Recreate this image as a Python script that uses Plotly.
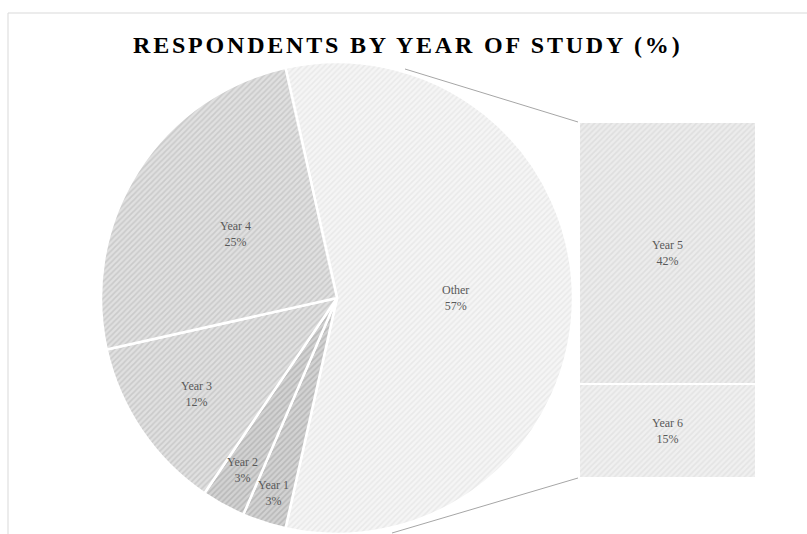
import math
import plotly.graph_objects as go

# ---- data ----
title_text = "RESPONDENTS BY YEAR OF STUDY (%)"
pie_labels = ["Other", "Year 1", "Year 2", "Year 3", "Year 4"]
pie_values = [57, 3, 3, 12, 25]
bar_labels = ["Year 6", "Year 5"]
bar_values = [15, 42]

# ---- style ----
W, H = 807, 534
def px(x):
    return x / W
def py(y):
    return 1 - y / H

pie_bg = ["#f5f5f5", "#d2d2d2", "#d2d2d2", "#e0e0e0", "#e0e0e0"]
pie_fg = ["#dddddd", "#a0a0a0", "#a0a0a0", "#b4b4b4", "#b4b4b4"]
bar_bg = ["#f0f0f0", "#ececec"]
bar_fg = ["#d8d8d8", "#d0d0d0"]
label_r = [0.50, 0.87, 0.83, 0.72, 0.51]
FONT = "Liberation Serif"
LABEL_COLOR = "#595959"

cx, cy, R = 337, 298, 236
total = sum(pie_values)
other_share = pie_values[0] / total
rotation = 90 - other_share * 180  # clockwise from 12 o'clock

fig = go.Figure()
fig.add_trace(go.Pie(
    labels=pie_labels, values=pie_values, sort=False, direction="clockwise",
    rotation=rotation, textinfo="none", hoverinfo="label+percent",
    domain=dict(x=[px(cx - R), px(cx + R)], y=[py(cy + R), py(cy - R)]),
    marker=dict(colors=pie_bg, line=dict(color="white", width=2.5),
                pattern=dict(shape="/", fgcolor=pie_fg, bgcolor=pie_bg,
                             size=4, solidity=0.4, fillmode="overlay")),
    showlegend=False,
))

for i, (lab, val) in enumerate(zip(bar_labels, bar_values)):
    fig.add_trace(go.Bar(
        x=[0], y=[val], width=[1], name=lab,
        marker=dict(color=bar_bg[i], line=dict(color="white", width=2),
                    pattern=dict(shape="/", fgcolor=bar_fg[i], bgcolor=bar_bg[i],
                                 size=4, solidity=0.4)),
        text=[f"{lab}<br>{val}%"], textposition="inside", insidetextanchor="middle",
        textfont=dict(family=FONT, size=12, color=LABEL_COLOR),
        showlegend=False,
    ))

# pie labels placed at slice mid-angles computed from the data
ann = []
start = rotation
for lab, val, rf in zip(pie_labels, pie_values, label_r):
    sweep = val / total * 360
    mid = math.radians(start + sweep / 2)
    x = cx + rf * R * math.sin(mid)
    y = cy - rf * R * math.cos(mid)
    ann.append(dict(x=px(x), y=py(y), xref="paper", yref="paper",
                    xanchor="center", yanchor="middle",
                    text=f"{lab}<br>{val}%", showarrow=False,
                    font=dict(family=FONT, size=12, color=LABEL_COLOR)))
    start += sweep

ann.append(dict(x=px(407), y=py(45), xref="paper", yref="paper",
                xanchor="center", yanchor="middle",
                text=f"<span style='letter-spacing:2.8px'><b>{title_text}</b></span>",
                showarrow=False,
                font=dict(family=FONT, size=24, color="#000000")))

shapes = [
    dict(type="rect", xref="paper", yref="paper", x0=px(8), y0=py(13), x1=px(830), y1=py(560),
         line=dict(color="#d9d9d9", width=1), fillcolor="rgba(0,0,0,0)", layer="below"),
    dict(type="line", xref="paper", yref="paper", x0=px(405), y0=py(69), x1=px(578), y1=py(122),
         line=dict(color="#a6a6a6", width=1)),
    dict(type="line", xref="paper", yref="paper", x0=px(392), y0=py(533), x1=px(578), y1=py(478),
         line=dict(color="#a6a6a6", width=1)),
]

fig.update_layout(
    width=W, height=H, margin=dict(l=0, r=0, t=0, b=0),
    paper_bgcolor="white", plot_bgcolor="rgba(0,0,0,0)",
    barmode="stack", bargap=0,
    xaxis=dict(domain=[px(579), px(756)], range=[-0.5, 0.5], visible=False, fixedrange=True),
    yaxis=dict(domain=[py(478), py(122)], range=[0, sum(bar_values)], visible=False, fixedrange=True),
    annotations=ann, shapes=shapes,
)

fig.write_html("out.html")
